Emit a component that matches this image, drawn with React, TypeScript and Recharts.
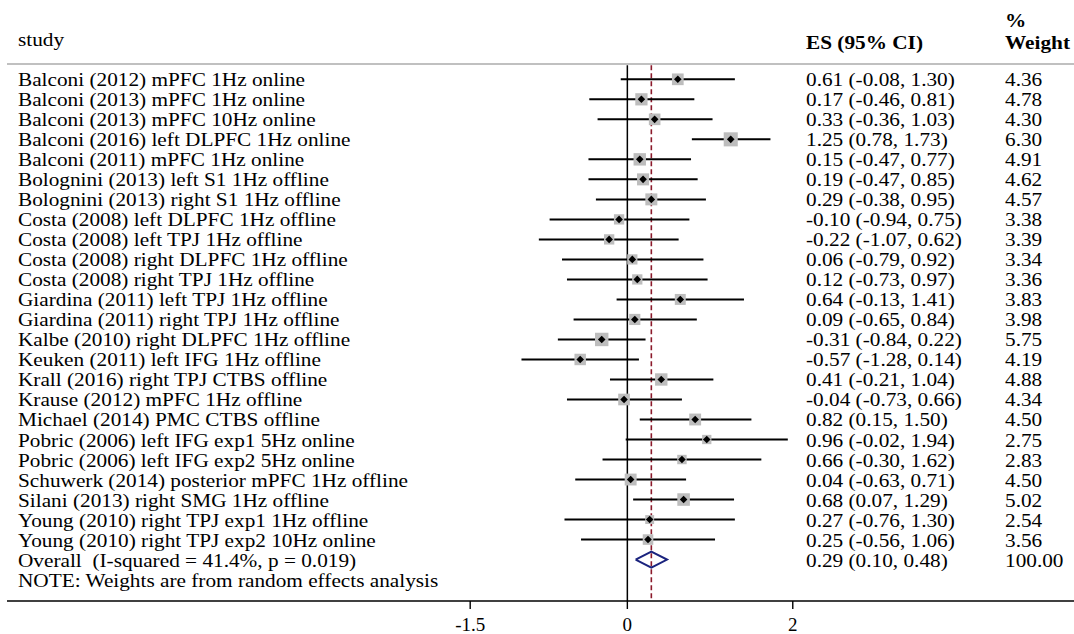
import { ScatterChart, Scatter, XAxis, YAxis, ReferenceLine } from "recharts";

const studies = [
  "Balconi (2012) mPFC 1Hz online",
  "Balconi (2013) mPFC 1Hz online",
  "Balconi (2013) mPFC 10Hz online",
  "Balconi (2016) left DLPFC 1Hz online",
  "Balconi (2011) mPFC 1Hz online",
  "Bolognini (2013) left S1 1Hz offline",
  "Bolognini (2013) right S1 1Hz offline",
  "Costa (2008) left DLPFC 1Hz offline",
  "Costa (2008) left TPJ 1Hz offline",
  "Costa (2008) right DLPFC 1Hz offline",
  "Costa (2008) right TPJ 1Hz offline",
  "Giardina (2011) left TPJ 1Hz offline",
  "Giardina (2011) right TPJ 1Hz offline",
  "Kalbe (2010) right DLPFC 1Hz offline",
  "Keuken (2011) left IFG 1Hz offline",
  "Krall (2016) right TPJ CTBS offline",
  "Krause (2012) mPFC 1Hz offline",
  "Michael (2014) PMC CTBS offline",
  "Pobric (2006) left IFG exp1 5Hz online",
  "Pobric (2006) left IFG exp2 5Hz online",
  "Schuwerk (2014) posterior mPFC 1Hz offline",
  "Silani (2013) right SMG 1Hz offline",
  "Young (2010) right TPJ exp1 1Hz offline",
  "Young (2010) right TPJ exp2 10Hz online",
];

const effects = [0.61, 0.17, 0.33, 1.25, 0.15, 0.19, 0.29, -0.1, -0.22, 0.06, 0.12, 0.64, 0.09, -0.31, -0.57, 0.41, -0.04, 0.82, 0.96, 0.66, 0.04, 0.68, 0.27, 0.25];
const lowers = [-0.08, -0.46, -0.36, 0.78, -0.47, -0.47, -0.38, -0.94, -1.07, -0.79, -0.73, -0.13, -0.65, -0.84, -1.28, -0.21, -0.73, 0.15, -0.02, -0.3, -0.63, 0.07, -0.76, -0.56];
const uppers = [1.3, 0.81, 1.03, 1.73, 0.77, 0.85, 0.95, 0.75, 0.62, 0.92, 0.97, 1.41, 0.84, 0.22, 0.14, 1.04, 0.66, 1.5, 1.94, 1.62, 0.71, 1.29, 1.3, 1.06];
const weights = [4.36, 4.78, 4.3, 6.3, 4.91, 4.62, 4.57, 3.38, 3.39, 3.34, 3.36, 3.83, 3.98, 5.75, 4.19, 4.88, 4.34, 4.5, 2.75, 2.83, 4.5, 5.02, 2.54, 3.56];

const overallLabel = "Overall  (I-squared = 41.4%, p = 0.019)";
const overallEffect = 0.29;
const overallLower = 0.1;
const overallUpper = 0.48;
const overallWeight = 100;

const noteText = "NOTE: Weights are from random effects analysis";

const xTicks = [-1.9, 0, 2];
const xTickLabels = ["-1.5", "0", "2"];

const FONT = "'Liberation Serif', 'Times New Roman', serif";
const SX = 1.12;
const FS = 19;

const fmt = (v: number) => v.toFixed(2);

const points = studies.map((s, i) => ({ x: effects[i], y: i, w: weights[i] }));
const overallRow = studies.length;
const noteRow = studies.length + 1;
const diamond = [
  { x: overallLower, y: overallRow },
  { x: overallEffect, y: overallRow - 0.4 },
  { x: overallUpper, y: overallRow },
  { x: overallEffect, y: overallRow + 0.4 },
  { x: overallLower, y: overallRow },
];

const textRows = [
  ...studies.map((s, i) => ({
    x: 0,
    y: i,
    label: s,
    es: `${fmt(effects[i])} (${fmt(lowers[i])}, ${fmt(uppers[i])})`,
    wt: fmt(weights[i]),
  })),
  {
    x: 0,
    y: overallRow,
    label: overallLabel,
    es: `${fmt(overallEffect)} (${fmt(overallLower)}, ${fmt(overallUpper)})`,
    wt: fmt(overallWeight),
  },
  { x: 0, y: noteRow, label: noteText, es: "", wt: "" },
];

const T = ({ x, y, bold, children }: any) => (
  <text
    transform={`translate(${x},${y}) scale(${SX},1)`}
    fontFamily={FONT}
    fontSize={FS}
    fontWeight={bold ? "bold" : "normal"}
    fill="#000"
    xmlSpace="preserve"
  >
    {children}
  </text>
);

// text columns ride on the y scale, one row per study
const RowText = (p: any) => {
  const { cy, payload } = p;
  const y = cy + 7;
  return (
    <g>
      <T x={18} y={y}>{payload.label}</T>
      {payload.es && <T x={806} y={y}>{payload.es}</T>}
      {payload.wt && <T x={1005} y={y}>{payload.wt}</T>}
    </g>
  );
};

const XTick = (props: any) => {
  const idx = xTicks.indexOf(props.payload.value);
  return (
    <text x={props.x} y={props.y + 20} textAnchor="middle" fontFamily={FONT} fontSize={FS} fill="#000">
      {xTickLabels[idx]}
    </text>
  );
};

const StudyMark = (p: any) => {
  const { cx, cy, payload } = p;
  const s = 5.6 * Math.sqrt(payload.w);
  const d = 3.8;
  return (
    <g>
      <rect x={cx - s / 2} y={cy - s / 2} width={s} height={s} fill="#bdbdbd" />
      <path d={`M${cx - d},${cy}L${cx},${cy - d}L${cx + d},${cy}L${cx},${cy + d}Z`} fill="#000" />
    </g>
  );
};

export default function App() {
  return (
    <div style={{ position: "absolute", left: 0, top: 0, background: "#fff" }}>
      <ScatterChart width={1074} height={634} margin={{ top: 64, right: 0, bottom: 0, left: 7 }}>
        <XAxis
          type="number"
          dataKey="x"
          domain={[-7.5, 5.4]}
          allowDataOverflow
          ticks={xTicks}
          interval={0}
          tickSize={8}
          height={33}
          axisLine={{ stroke: "#000", strokeWidth: 1.6 }}
          tickLine={{ stroke: "#000", strokeWidth: 1.4 }}
          tick={<XTick />}
        />
        <YAxis type="number" dataKey="y" reversed domain={[-0.765, 26.07]} allowDataOverflow hide width={0} />
        <ReferenceLine y={-0.765} stroke="#ababab" strokeWidth={1.5} ifOverflow="visible" />
        <ReferenceLine
          segment={[{ x: 0, y: -0.7 }, { x: 0, y: 26.07 }]}
          stroke="#000"
          strokeWidth={1.5}
          ifOverflow="visible"
        />
        <ReferenceLine
          segment={[{ x: overallEffect, y: -0.7 }, { x: overallEffect, y: 26.07 }]}
          stroke="#8b1a2b"
          strokeWidth={1.6}
          strokeDasharray="5 3"
          ifOverflow="visible"
        />
        {studies.map((s, i) => (
          <ReferenceLine
            key={s}
            segment={[{ x: lowers[i], y: i }, { x: uppers[i], y: i }]}
            stroke="#000"
            strokeWidth={2}
            ifOverflow="visible"
          />
        ))}
        <Scatter data={points} shape={<StudyMark />} isAnimationActive={false} />
        <Scatter
          data={diamond}
          line={{ stroke: "#1a237e", strokeWidth: 2 }}
          shape={() => <g />}
          isAnimationActive={false}
        />
        <Scatter data={textRows} shape={<RowText />} isAnimationActive={false} />
        <T x={18} y={46}>study</T>
        <T x={806} y={49} bold>ES (95% CI)</T>
        <T x={1005} y={27} bold>%</T>
        <T x={1005} y={49} bold>Weight</T>
      </ScatterChart>
    </div>
  );
}
